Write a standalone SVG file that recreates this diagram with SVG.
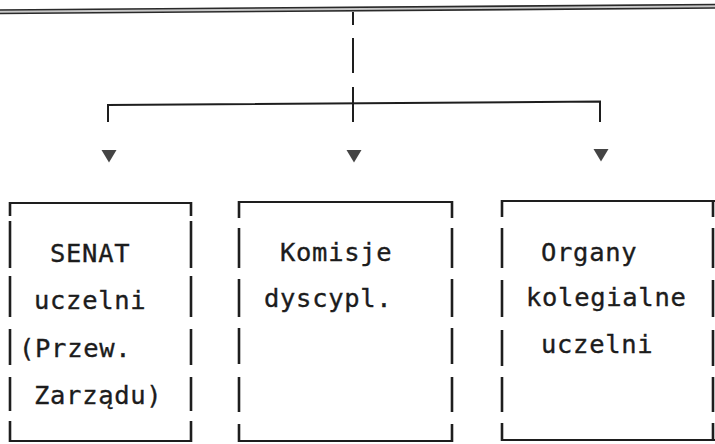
<svg xmlns="http://www.w3.org/2000/svg" width="715" height="444" viewBox="0 0 715 444">
<style>
.bg{fill:#ffffff}
.t{font-family:"DejaVu Sans Mono","Liberation Mono",monospace;font-size:25.5px;letter-spacing:0.7px;fill:#1c1c1c;stroke:#1c1c1c;stroke-width:0.35}
.edge{stroke:#1e1e1e;stroke-width:2;fill:none}
.bar{stroke:#1e1e1e;stroke-width:2.6;fill:none;stroke-linecap:butt}
.hl{stroke:#2a2a2a;stroke-width:1.6;fill:none}
.conn{stroke:#1e1e1e;stroke-width:2;fill:none}
.tri{fill:#444444}
</style>
<defs>
<path id="tri" d="M-7.5,0 L7.5,0 L0,12.5 Z"/>
</defs>
<rect class="bg" x="0" y="0" width="715" height="444"/>
<g id="connectors">
  <path d="M0,11.5 L715,6" stroke="#c8c8c8" stroke-width="4" fill="none"/>
  <path class="hl" d="M0,10 L715,4.5"/>
  <path class="hl" d="M0,13.5 L715,8"/>
  <path class="conn" d="M353,12 V25 M353,38 V73 M353,87 V122"/>
  <path class="conn" d="M108,122 V105 L600,101.5 V122"/>
  <use href="#tri" class="tri" x="109" y="150"/>
  <use href="#tri" class="tri" x="354" y="150"/>
  <use href="#tri" class="tri" x="601" y="149"/>
</g>
<g id="senat">
  <path class="edge" d="M10,203 H192"/>
  <path class="edge" d="M10,441 H191"/>
  <path class="bar" d="M10,202 V216 M10,221 V268 M10,276 V317 M10,329 V365 M10,377 V411 M10,421 V442"/>
  <path class="bar" d="M191,202 V216 M191,221 V268 M191,276 V317 M191,329 V365 M191,377 V411 M191,421 V442"/>
  <text class="t" x="50" y="262">SENAT</text>
  <text class="t" x="34" y="309">uczelni</text>
  <text class="t" x="19" y="357">(Przew.</text>
  <text class="t" x="34" y="404">Zarządu)</text>
</g>
<g id="komisje">
  <path class="edge" d="M238,202 H453"/>
  <path class="edge" d="M239,441 H453"/>
  <path class="bar" d="M239,201 V218 M239,228 V268 M239,279 V317 M239,328 V364 M239,377 V412 M239,424 V442"/>
  <path class="bar" d="M452,201 V218 M452,228 V268 M452,279 V317 M452,328 V364 M452,377 V412 M452,424 V442"/>
  <text class="t" x="280" y="261">Komisje</text>
  <text class="t" x="264" y="307">dyscypl.</text>
</g>
<g id="organy">
  <path class="edge" d="M502,201 H715"/>
  <path class="edge" d="M502,440 H715"/>
  <path class="bar" d="M502,200 V217 M502,228 V268 M502,280 V317 M502,330 V366 M502,377 V412 M502,423 V441"/>
  <path class="bar" d="M713,200 V217 M713,228 V268 M713,280 V317 M713,330 V366 M713,377 V412 M713,423 V441"/>
  <text class="t" x="541" y="261">Organy</text>
  <text class="t" x="526" y="306">kolegialne</text>
  <text class="t" x="541" y="353">uczelni</text>
</g>
</svg>
